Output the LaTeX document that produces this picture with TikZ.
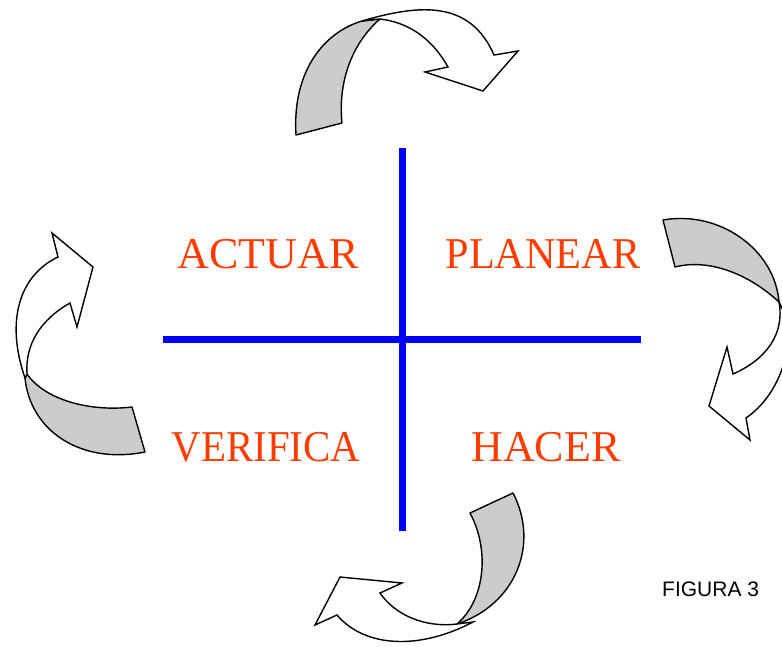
\documentclass[tikz,border=0pt]{standalone}
\usepackage{fontspec}
\setmainfont{Liberation Serif}
\newfontfamily\figfont{Liberation Sans}
\definecolor{phasered}{RGB}{255,60,0}
\definecolor{bandgray}{RGB}{204,204,204}

\begin{document}
\begin{tikzpicture}
    [x=1pt, y=-1pt,
    axis/.style={blue, line width=7pt},
    band/.style={fill=bandgray, draw=black, line width=1.4pt, line join=round},
    ribbon/.style={fill=white, draw=black, line width=1.4pt, line join=miter},
    phase/.style={text=phasered, font=\fontsize{44}{44}\selectfont, anchor=base, inner sep=0pt}]
    \useasboundingbox (0,0) rectangle (782,646);
    \clip (0,0) rectangle (782,646);

        %% Cross
    \coordinate (vtop) at (402,148);
    \coordinate (vbot) at (402,531);
    \coordinate (hleft) at (163,339);
    \coordinate (hright) at (641,339);
    \draw[axis] (vtop) -- (vbot);
    \draw[axis] (hleft) -- (hright);

        %% Phases
    \node[phase] (actuar) at (268,268) {ACTUAR};
    \node[phase, xscale=0.96] (planear) at (543,268) {PLANEAR};
    \node[phase, xscale=0.93] (verifica) at (266,461) {VERIFICA};
    \node[phase] (hacer) at (546,461) {HACER};
    \node[anchor=base west, inner sep=0pt, font=\figfont\fontsize{21}{21}\selectfont] (figura) at (662,596) {FIGURA 3};

        %% Top arrow
    \filldraw[band] (296,135) .. controls (292,70) and (325,32) .. (362,21)
        -- (380,19) .. controls (350,45) and (338,85) .. (342,123) -- cycle;
    \filldraw[ribbon] (362,21) .. controls (420,4) and (470,0) .. (494,55)
        -- (518,51) -- (483,91) -- (425,72) -- (448,67)
        .. controls (430,35) and (405,22) .. (380,19) -- cycle;

        %% Right arrow
    \filldraw[band] (663,220) .. controls (720,210) and (775,250) .. (779,302)
        .. controls (750,275) and (710,258) .. (675,267) -- cycle;
    \filldraw[ribbon] (779,302) .. controls (785,335) and (765,360) .. (733,374)
        -- (727,347) -- (709,406) -- (750,440) -- (746,418)
        .. controls (780,395) and (800,340) .. (779,302) -- cycle;

        %% Left arrow
    \filldraw[band] (132,407) .. controls (90,412) and (45,400) .. (27,374)
        -- (25,378) .. controls (30,430) and (80,465) .. (145,452) -- cycle;
    \filldraw[ribbon] (25,378) .. controls (5,320) and (20,275) .. (58,257)
        -- (52,233) -- (93,267) -- (77,327) -- (70,303)
        .. controls (40,320) and (25,345) .. (27,374) -- cycle;

        %% Bottom arrow
    \filldraw[band] (470,513) .. controls (490,550) and (485,600) .. (457,624)
        .. controls (515,605) and (540,545) .. (513,493) -- cycle;
    \filldraw[ribbon] (473,622) .. controls (420,650) and (365,648) .. (337,615)
        -- (315,625) -- (340,577) -- (402,583) -- (380,593)
        .. controls (395,615) and (425,628) .. (457,624) -- cycle;
\end{tikzpicture}
\end{document}
